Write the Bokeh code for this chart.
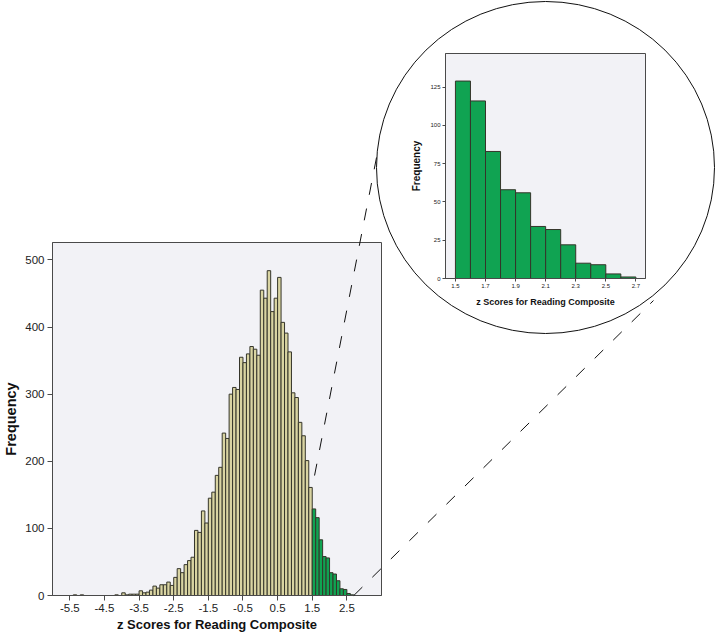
import numpy as np
from bokeh.plotting import figure
from bokeh.models import FixedTicker, Range1d
from bokeh.embed import file_html
from bokeh.resources import INLINE

# ---------------- data ----------------
bin_width = 0.1
bin_lefts = [round(-5.4 + 0.1 * i, 1) for i in range(81)]   # -5.4 ... 2.6
counts = [
    1, 0, 1, 0, 0, 0, 0, 0, 0, 0,          # -5.4 .. -4.5
    0, 0, 1, 0, 4, 1, 2, 2, 2, 7,          # -4.4 .. -3.5
    4, 5, 8, 14, 11, 16, 16, 20, 15, 27,   # -3.4 .. -2.5
    40, 34, 46, 52, 57, 97, 94, 126, 108, 145,   # -2.4 .. -1.5
    154, 179, 191, 242, 234, 300, 310, 307, 355, 347,  # -1.4 .. -0.5
    360, 371, 367, 358, 455, 443, 484, 423, 443, 474,  # -0.4 .. 0.5
    407, 391, 363, 302, 295, 258, 238, 201, 161, 129,  # 0.6 .. 1.5
    116, 83, 58, 56, 34, 32, 22, 10, 9, 3,             # 1.6 .. 2.5
    1,                                                 # 2.6
]
zoom_start = 1.5
zoom_end = 2.7

x_ticks_main = [-5.5, -4.5, -3.5, -2.5, -1.5, -0.5, 0.5, 1.5, 2.5]
x_tick_labels_main = ["-5.5", "-4.5", "-3.5", "-2.5", "-1.5", "-0.5", "0.5", "1.5", "2.5"]
y_ticks_main = [0, 100, 200, 300, 400, 500]
x_ticks_inset = [1.5, 1.7, 1.9, 2.1, 2.3, 2.5, 2.7]
y_ticks_inset = [0, 25, 50, 75, 100, 125]
x_title = "z Scores for Reading Composite"
y_title = "Frequency"

# ---------------- style ----------------
FONT = "Liberation Sans"
TAN = "#d9d4a2"
GREEN = "#10a352"
EDGE = "#35352a"
BG = "#f2f2f6"
FRAME = "#4a4a4a"

W, H = 715, 635
OVER_CSS = ":host { position: absolute !important; top: 0px !important; left: 0px !important; }"
OVER_STYLE = {"position": "absolute", "top": "0px", "left": "0px"}

lefts = np.array(bin_lefts)
rights = lefts + bin_width
vals = np.array(counts)
is_green = lefts >= zoom_start - 1e-9

# ---------------- main histogram ----------------
MX0, MX1, MY1 = -6.0, 3.5, 526
ML, MT, MFW, MFH = 52, 242, 329, 353
main = figure(width=W, height=H, x_range=Range1d(MX0, MX1), y_range=Range1d(0, MY1),
              output_backend="svg", toolbar_location=None,
              min_border_left=ML, min_border_top=MT,
              min_border_right=W - ML - MFW, min_border_bottom=H - MT - MFH,
              background_fill_color=BG, border_fill_color="white",
              outline_line_color=FRAME)
main.quad(left=lefts[~is_green], right=rights[~is_green], bottom=0, top=vals[~is_green],
          fill_color=TAN, line_color=EDGE, line_width=1)
main.quad(left=lefts[is_green], right=rights[is_green], bottom=0, top=vals[is_green],
          fill_color=GREEN, line_color=EDGE, line_width=1)
main.grid.visible = False
for ax in (main.xaxis[0], main.yaxis[0]):
    ax.axis_line_color = FRAME
    ax.major_tick_line_color = FRAME
    ax.minor_tick_line_color = None
    ax.major_tick_in = 0
    ax.major_tick_out = 5
    ax.major_label_text_font = FONT
    ax.major_label_text_font_size = "11.5px"
    ax.major_label_text_color = "#222222"
    ax.axis_label_text_font = FONT
    ax.axis_label_text_font_style = "bold"
    ax.axis_label_text_color = "#111111"
    ax.major_label_standoff = 3
main.xaxis.ticker = FixedTicker(ticks=x_ticks_main)
main.xaxis.major_label_overrides = dict(zip(x_ticks_main, x_tick_labels_main))
main.yaxis.ticker = FixedTicker(ticks=y_ticks_main)
main.xaxis.axis_label = x_title
main.yaxis.axis_label = y_title
main.xaxis.axis_label_text_font_size = "13px"
main.yaxis.axis_label_text_font_size = "14.5px"
main.xaxis.axis_label_standoff = 2
main.yaxis.axis_label_standoff = 3

# ---------------- overlay: magnifier circle + dashed connectors ----------------
def mpx(x):
    return ML + (x - MX0) / (MX1 - MX0) * MFW

def mpy(y):
    return MT + (MY1 - y) / MY1 * MFH

idx_a = int(np.argmin(np.abs(rights - zoom_start)))
circle_cx, circle_cy, circle_w, circle_h = 545, 167, 338, 332
ov = figure(width=W, height=H, x_range=Range1d(0, W), y_range=Range1d(H, 0),
            output_backend="svg", toolbar_location=None,
            x_axis_location=None, y_axis_location=None, min_border=0,
            outline_line_color=None, background_fill_color=None, border_fill_color=None,
            styles=OVER_STYLE, stylesheets=[OVER_CSS])
ov.grid.visible = False
ov.ellipse(x=[circle_cx], y=[circle_cy], width=[circle_w], height=[circle_h],
           fill_color=None, line_color="#111111", line_width=1)
ov.line(x=[376, mpx(zoom_start)], y=[157, mpy(vals[idx_a])],
        line_color="#111111", line_width=1, line_dash="12 14")
ov.line(x=[mpx(zoom_end), 653], y=[mpy(0), 300],
        line_color="#111111", line_width=1, line_dash="12 14")

# ---------------- inset histogram ----------------
IL, IT, IFW, IFH = 445, 53, 200, 225
ins = figure(width=W, height=H, x_range=Range1d(1.434, 2.764), y_range=Range1d(0, 147),
             output_backend="svg", toolbar_location=None,
             min_border_left=IL, min_border_top=IT,
             min_border_right=W - IL - IFW, min_border_bottom=H - IT - IFH,
             background_fill_color=BG, border_fill_color=None, outline_line_color=FRAME,
             styles=OVER_STYLE, stylesheets=[OVER_CSS])
ins.quad(left=lefts[is_green], right=rights[is_green], bottom=0, top=vals[is_green],
         fill_color=GREEN, line_color=EDGE, line_width=1)
ins.grid.visible = False
for ax in (ins.xaxis[0], ins.yaxis[0]):
    ax.axis_line_color = FRAME
    ax.major_tick_line_color = FRAME
    ax.minor_tick_line_color = None
    ax.major_tick_in = 0
    ax.major_tick_out = 3
    ax.major_label_text_font = FONT
    ax.major_label_text_font_size = "6px"
    ax.major_label_text_color = "#222222"
    ax.axis_label_text_font = FONT
    ax.axis_label_text_font_style = "bold"
    ax.axis_label_text_color = "#111111"
    ax.major_label_standoff = 2
ins.xaxis.ticker = FixedTicker(ticks=x_ticks_inset)
ins.yaxis.ticker = FixedTicker(ticks=y_ticks_inset)
ins.xaxis.axis_label = x_title
ins.yaxis.axis_label = y_title
ins.xaxis.axis_label_text_font_size = "9px"
ins.yaxis.axis_label_text_font_size = "10px"
ins.xaxis.axis_label_standoff = 6
ins.yaxis.axis_label_standoff = 5

open("out.html", "w").write(file_html([main, ov, ins], INLINE))
